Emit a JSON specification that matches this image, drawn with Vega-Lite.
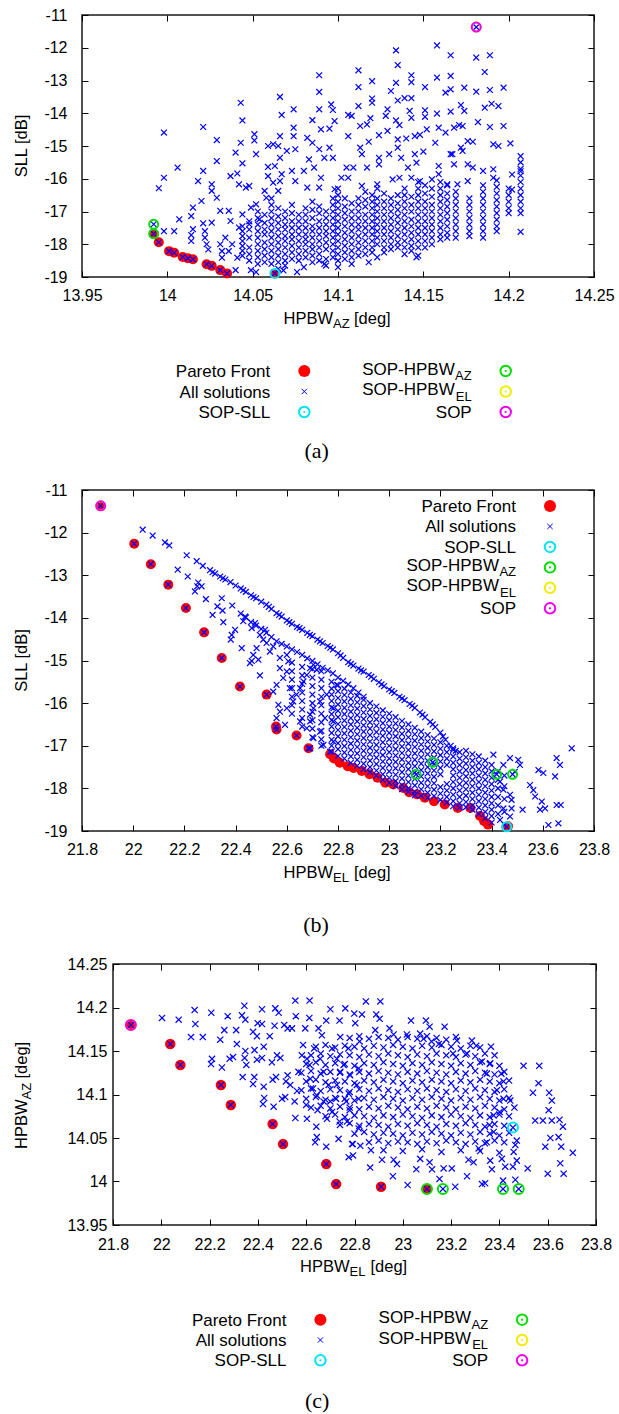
{
"$schema": "https://vega.github.io/schema/vega-lite/v6.json",
"padding": {"left": 12, "top": 6, "right": 0, "bottom": 0},
"spacing": 18,
"columns": 1,
"config": {
  "font": "Liberation Sans",
  "view": {"stroke": "#1a1a1a", "strokeWidth": 1.5},
  "axis": {"domain": false, "grid": false, "tickSize": -6, "tickColor": "#000", "tickWidth": 1, "labelFontSize": 16, "labelColor": "#000", "labelFlush": false, "labelOverlap": false}
},
"datasets": {
  "L3": [{"k":"pf","name":"Pareto Front","col":0,"row":0},{"k":"all","name":"All solutions","col":0,"row":1},{"k":"sll","name":"SOP-SLL","col":0,"row":2},{"k":"az","name":"SOP-HPBW","sub":"AZ","col":1,"row":0},{"k":"el","name":"SOP-HPBW","sub":"EL","col":1,"row":1},{"k":"sop","name":"SOP","col":1,"row":2}],
  "L6": [{"k":"pf","name":"Pareto Front","col":0,"row":0},{"k":"all","name":"All solutions","col":0,"row":1},{"k":"sll","name":"SOP-SLL","col":0,"row":2},{"k":"az","name":"SOP-HPBW","sub":"AZ","col":0,"row":3},{"k":"el","name":"SOP-HPBW","sub":"EL","col":0,"row":4},{"k":"sop","name":"SOP","col":0,"row":5}],
  "aP": [{"x":13.992,"y":-17.68},{"x":13.995,"y":-17.94},{"x":14.001,"y":-18.21},{"x":14.004,"y":-18.26},{"x":14.009,"y":-18.39},{"x":14.012,"y":-18.43},{"x":14.015,"y":-18.46},{"x":14.023,"y":-18.61},{"x":14.026,"y":-18.66},{"x":14.031,"y":-18.79},{"x":14.035,"y":-18.89},{"x":14.063,"y":-18.89}],
  "aS": [{"x":14.063,"y":-18.89,"k":"sll"},{"x":13.992,"y":-17.39,"k":"az"},{"x":13.992,"y":-17.68,"k":"az"},{"x":14.181,"y":-11.37,"k":"el"},{"x":14.181,"y":-11.37,"k":"sop"}],
  "aA": [
{"x":14.181,"y":-11.37},{"x":14.158,"y":-11.93},{"x":14.134,"y":-12.08},{"x":14.166,"y":-12.23},{"x":14.181,"y":-12.30},{"x":14.189,"y":-12.23},{"x":14.135,"y":-12.53},{"x":14.186,"y":-12.74},{"x":14.112,"y":-12.69},{"x":14.089,"y":-12.84},{"x":14.120,"y":-13.02},{"x":14.143,"y":-12.84},{"x":14.143,"y":-13.05},{"x":14.134,"y":-13.07},{"x":14.158,"y":-12.91},{"x":14.166,"y":-12.86},{"x":14.112,"y":-13.20},{"x":14.151,"y":-13.20},{"x":14.163,"y":-13.37},{"x":14.166,"y":-13.27},{"x":14.174,"y":-13.22},{"x":14.181,"y":-13.34},{"x":14.189,"y":-13.29},{"x":14.197,"y":-13.22},{"x":14.089,"y":-13.35},{"x":14.131,"y":-13.32},{"x":14.135,"y":-13.61},{"x":14.139,"y":-13.54},{"x":14.143,"y":-13.54},{"x":14.120,"y":-13.55},{"x":14.120,"y":-13.68},{"x":14.074,"y":-13.88},{"x":14.089,"y":-13.88},{"x":14.096,"y":-13.73},{"x":14.097,"y":-13.90},{"x":14.112,"y":-13.78},{"x":14.106,"y":-14.05},{"x":14.108,"y":-14.08},{"x":14.117,"y":-14.34},{"x":14.119,"y":-14.15},{"x":14.129,"y":-13.88},{"x":14.128,"y":-14.08},{"x":14.134,"y":-14.22},{"x":14.136,"y":-14.36},{"x":14.142,"y":-13.93},{"x":14.143,"y":-14.14},{"x":14.151,"y":-13.91},{"x":14.151,"y":-14.11},{"x":14.158,"y":-14.01},{"x":14.166,"y":-13.95},{"x":14.172,"y":-13.75},{"x":14.174,"y":-13.93},{"x":14.182,"y":-14.27},{"x":14.186,"y":-13.83},{"x":14.190,"y":-13.71},{"x":14.194,"y":-13.78},{"x":14.197,"y":-14.39},{"x":14.189,"y":-14.42},{"x":14.085,"y":-14.21},{"x":14.074,"y":-14.44},{"x":14.074,"y":-14.70},{"x":14.066,"y":-14.70},{"x":14.090,"y":-14.49},{"x":14.095,"y":-14.47},{"x":14.098,"y":-14.24},{"x":14.082,"y":-14.75},{"x":14.085,"y":-14.90},{"x":14.106,"y":-14.70},{"x":14.113,"y":-14.39},{"x":14.118,"y":-14.87},{"x":14.124,"y":-14.67},{"x":14.129,"y":-14.54},{"x":14.135,"y":-14.80},{"x":14.140,"y":-14.77},{"x":14.145,"y":-14.70},{"x":14.148,"y":-14.66},{"x":14.152,"y":-14.49},{"x":14.159,"y":-14.44},{"x":14.163,"y":-14.59},{"x":14.168,"y":-14.44},{"x":14.171,"y":-14.36},{"x":14.173,"y":-14.39},{"x":14.176,"y":-14.85},{"x":14.179,"y":-14.87},{"x":14.157,"y":-14.90},{"x":14.167,"y":-15.25},{"x":14.173,"y":-15.15},{"x":14.191,"y":-14.95},{"x":14.194,"y":-15.00},{"x":14.089,"y":-15.10},{"x":14.095,"y":-15.05},{"x":14.092,"y":-15.36},{"x":14.097,"y":-15.36},{"x":14.083,"y":-15.41},{"x":14.066,"y":-15.36},{"x":14.070,"y":-15.15},{"x":14.075,"y":-15.10},{"x":14.080,"y":-15.76},{"x":14.073,"y":-15.76},{"x":14.113,"y":-15.05},{"x":14.114,"y":-15.25},{"x":14.124,"y":-15.36},{"x":14.124,"y":-15.56},{"x":14.130,"y":-15.25},{"x":14.135,"y":-15.05},{"x":14.137,"y":-15.36},{"x":14.141,"y":-15.66},{"x":14.145,"y":-15.25},{"x":14.146,"y":-15.51},{"x":14.150,"y":-15.17},{"x":14.159,"y":-15.61},{"x":14.159,"y":-15.86},{"x":14.166,"y":-15.25},{"x":14.168,"y":-15.56},{"x":14.172,"y":-15.05},{"x":14.176,"y":-15.56},{"x":14.179,"y":-15.66},{"x":14.185,"y":-15.76},{"x":14.191,"y":-15.71},{"x":14.191,"y":-15.97},{"x":14.105,"y":-15.66},{"x":14.109,"y":-15.66},{"x":14.117,"y":-15.66},{"x":14.102,"y":-15.97},{"x":14.090,"y":-15.97},{"x":14.086,"y":-15.66},{"x":14.066,"y":-16.07},{"x":14.075,"y":-16.07},{"x":14.082,"y":-16.27},{"x":14.089,"y":-16.27},{"x":14.098,"y":-16.32},{"x":14.106,"y":-15.97},{"x":14.114,"y":-16.22},{"x":14.123,"y":-16.17},{"x":14.132,"y":-16.02},{"x":14.136,"y":-15.97},{"x":14.143,"y":-15.97},{"x":14.148,"y":-16.07},{"x":14.155,"y":-16.02},{"x":14.164,"y":-16.17},{"x":14.170,"y":-16.17},{"x":14.176,"y":-16.07},
{"x":14.201,"y":-14.92},{"x":14.207,"y":-15.31},{"x":14.202,"y":-15.87},{"x":14.207,"y":-15.77},{"x":14.202,"y":-16.33},{"x":14.207,"y":-17.62},
{"x":13.998,"y":-14.59},{"x":13.995,"y":-16.29},{"x":13.998,"y":-15.97},{"x":14.006,"y":-15.66},{"x":14.021,"y":-14.42},{"x":14.029,"y":-14.82},{"x":14.029,"y":-15.46},{"x":14.021,"y":-15.76},{"x":14.018,"y":-16.07},{"x":14.043,"y":-13.68},{"x":14.044,"y":-14.22},{"x":14.043,"y":-14.90},{"x":14.040,"y":-15.20},{"x":14.044,"y":-15.53},{"x":14.037,"y":-15.92},{"x":14.041,"y":-15.84},{"x":14.042,"y":-16.17},{"x":14.046,"y":-16.27},{"x":14.051,"y":-14.64},{"x":14.051,"y":-14.83},{"x":14.052,"y":-15.25},{"x":14.048,"y":-16.22},{"x":14.026,"y":-16.17},{"x":14.026,"y":-16.37},{"x":14.020,"y":-16.68},{"x":14.029,"y":-16.58},{"x":14.031,"y":-16.98},{"x":14.036,"y":-16.98},{"x":14.037,"y":-17.29},{"x":14.015,"y":-16.88},{"x":14.014,"y":-17.14},{"x":14.007,"y":-17.24},{"x":14.015,"y":-17.54},{"x":14.014,"y":-17.72},{"x":14.014,"y":-17.90},{"x":14.021,"y":-17.36},{"x":14.026,"y":-17.34},{"x":14.022,"y":-17.60},{"x":14.022,"y":-17.80},{"x":14.023,"y":-18.00},{"x":14.024,"y":-18.16},{"x":13.998,"y":-17.60},{"x":14.004,"y":-17.60},{"x":14.031,"y":-18.00},{"x":14.032,"y":-18.21},{"x":14.034,"y":-17.80},{"x":14.036,"y":-18.21},{"x":14.038,"y":-18.00},{"x":14.041,"y":-18.41},{"x":14.032,"y":-18.41},{"x":14.040,"y":-18.79},{"x":14.049,"y":-18.79},{"x":14.042,"y":-17.49},{"x":14.044,"y":-17.09},{"x":14.048,"y":-17.39},{"x":14.049,"y":-16.88},{"x":14.052,"y":-16.78},{"x":14.054,"y":-17.24},{"x":14.066,"y":-13.50},{"x":14.067,"y":-14.05},{"x":14.059,"y":-15.00},{"x":14.062,"y":-14.95},{"x":14.065,"y":-15.00},{"x":14.059,"y":-15.64},{"x":14.063,"y":-15.61},{"x":14.059,"y":-15.92},{"x":14.062,"y":-16.12},{"x":14.065,"y":-16.37},{"x":14.067,"y":-15.86},{"x":14.057,"y":-16.37},{"x":14.058,"y":-16.58},
{"x":13.992,"y":-17.68},{"x":13.995,"y":-17.94},{"x":14.001,"y":-18.21},{"x":14.004,"y":-18.26},{"x":14.009,"y":-18.39},{"x":14.012,"y":-18.43},{"x":14.015,"y":-18.46},{"x":14.023,"y":-18.61},{"x":14.026,"y":-18.66},{"x":14.031,"y":-18.79},{"x":14.035,"y":-18.89},{"x":14.063,"y":-18.89},{"x":13.992,"y":-17.39},
{"x":14.052,"y":-18.85},{"x":14.068,"y":-18.80},{"x":14.076,"y":-18.85},{"x":14.080,"y":-18.70},{"x":14.092,"y":-18.60},{"x":14.108,"y":-18.60},{"x":14.118,"y":-18.55},{"x":14.146,"y":-18.40},
{"x":14.044,"y":-17.45},{"x":14.044,"y":-17.60},{"x":14.044,"y":-17.75},{"x":14.044,"y":-17.90},{"x":14.044,"y":-18.05},{"x":14.044,"y":-18.20},{"x":14.044,"y":-18.35},
{"x":14.048,"y":-17.30},{"x":14.048,"y":-17.55},{"x":14.048,"y":-17.80},{"x":14.048,"y":-18.10},{"x":14.048,"y":-18.30},{"x":14.048,"y":-18.50},
{"x":14.053,"y":-17.00},{"x":14.053,"y":-17.20},{"x":14.053,"y":-17.40},{"x":14.053,"y":-17.60},{"x":14.053,"y":-17.80},{"x":14.053,"y":-18.00},{"x":14.053,"y":-18.20},{"x":14.053,"y":-18.40},{"x":14.053,"y":-18.60},
{"x":14.057,"y":-17.10},{"x":14.057,"y":-17.35},{"x":14.057,"y":-17.55},{"x":14.057,"y":-17.70},{"x":14.057,"y":-17.95},{"x":14.057,"y":-18.15},{"x":14.057,"y":-18.35},{"x":14.057,"y":-18.55},
{"x":14.061,"y":-16.60},{"x":14.061,"y":-16.80},{"x":14.061,"y":-17.00},{"x":14.061,"y":-17.20},{"x":14.061,"y":-17.40},{"x":14.061,"y":-17.60},{"x":14.061,"y":-17.80},{"x":14.061,"y":-18.00},{"x":14.061,"y":-18.20},{"x":14.061,"y":-18.40},{"x":14.061,"y":-18.60},
{"x":14.065,"y":-16.90},{"x":14.065,"y":-17.15},{"x":14.065,"y":-17.35},{"x":14.065,"y":-17.55},{"x":14.065,"y":-17.75},{"x":14.065,"y":-17.95},{"x":14.065,"y":-18.15},{"x":14.065,"y":-18.35},{"x":14.065,"y":-18.55},{"x":14.065,"y":-18.75},
{"x":14.069,"y":-17.00},{"x":14.069,"y":-17.20},{"x":14.069,"y":-17.40},{"x":14.069,"y":-17.55},{"x":14.069,"y":-17.75},{"x":14.069,"y":-17.90},{"x":14.069,"y":-18.10},{"x":14.069,"y":-18.30},{"x":14.069,"y":-18.50},{"x":14.069,"y":-18.65},
{"x":14.073,"y":-16.80},{"x":14.073,"y":-17.05},{"x":14.073,"y":-17.30},{"x":14.073,"y":-17.50},{"x":14.073,"y":-17.70},{"x":14.073,"y":-17.85},{"x":14.073,"y":-18.05},{"x":14.073,"y":-18.25},{"x":14.073,"y":-18.45},
{"x":14.077,"y":-17.10},{"x":14.077,"y":-17.30},{"x":14.077,"y":-17.50},{"x":14.077,"y":-17.70},{"x":14.077,"y":-17.90},{"x":14.077,"y":-18.10},{"x":14.077,"y":-18.30},{"x":14.077,"y":-18.50},
{"x":14.081,"y":-16.90},{"x":14.081,"y":-17.10},{"x":14.081,"y":-17.30},{"x":14.081,"y":-17.50},{"x":14.081,"y":-17.70},{"x":14.081,"y":-17.85},{"x":14.081,"y":-18.00},{"x":14.081,"y":-18.20},{"x":14.081,"y":-18.40},
{"x":14.085,"y":-16.70},{"x":14.085,"y":-16.95},{"x":14.085,"y":-17.20},{"x":14.085,"y":-17.45},{"x":14.085,"y":-17.60},{"x":14.085,"y":-17.80},{"x":14.085,"y":-18.00},{"x":14.085,"y":-18.15},{"x":14.085,"y":-18.35},{"x":14.085,"y":-18.55},
{"x":14.089,"y":-16.85},{"x":14.089,"y":-17.05},{"x":14.089,"y":-17.30},{"x":14.089,"y":-17.50},{"x":14.089,"y":-17.70},{"x":14.089,"y":-17.90},{"x":14.089,"y":-18.10},{"x":14.089,"y":-18.30},{"x":14.089,"y":-18.50},
{"x":14.093,"y":-17.00},{"x":14.093,"y":-17.20},{"x":14.093,"y":-17.40},{"x":14.093,"y":-17.60},{"x":14.093,"y":-17.75},{"x":14.093,"y":-17.95},{"x":14.093,"y":-18.15},{"x":14.093,"y":-18.45},{"x":14.093,"y":-18.65},
{"x":14.097,"y":-16.60},{"x":14.097,"y":-16.80},{"x":14.097,"y":-17.00},{"x":14.097,"y":-17.20},{"x":14.097,"y":-17.40},{"x":14.097,"y":-17.60},{"x":14.097,"y":-17.80},{"x":14.097,"y":-18.00},{"x":14.097,"y":-18.20},{"x":14.097,"y":-18.40},
{"x":14.100,"y":-16.30},{"x":14.100,"y":-16.50},{"x":14.100,"y":-16.70},{"x":14.100,"y":-16.90},{"x":14.100,"y":-17.10},{"x":14.100,"y":-17.30},{"x":14.100,"y":-17.50},{"x":14.100,"y":-17.70},{"x":14.100,"y":-17.90},{"x":14.100,"y":-18.10},{"x":14.100,"y":-18.30},{"x":14.100,"y":-18.50},{"x":14.100,"y":-18.70},
{"x":14.104,"y":-16.60},{"x":14.104,"y":-16.85},{"x":14.104,"y":-17.05},{"x":14.104,"y":-17.25},{"x":14.104,"y":-17.45},{"x":14.104,"y":-17.65},{"x":14.104,"y":-17.85},{"x":14.104,"y":-18.05},{"x":14.104,"y":-18.25},{"x":14.104,"y":-18.45},
{"x":14.108,"y":-16.75},{"x":14.108,"y":-17.00},{"x":14.108,"y":-17.20},{"x":14.108,"y":-17.40},{"x":14.108,"y":-17.60},{"x":14.108,"y":-17.80},{"x":14.108,"y":-18.00},{"x":14.108,"y":-18.20},{"x":14.108,"y":-18.40},
{"x":14.112,"y":-16.60},{"x":14.112,"y":-16.80},{"x":14.112,"y":-17.00},{"x":14.112,"y":-17.20},{"x":14.112,"y":-17.40},{"x":14.112,"y":-17.55},{"x":14.112,"y":-17.75},{"x":14.112,"y":-17.95},{"x":14.112,"y":-18.15},{"x":14.112,"y":-18.35},
{"x":14.116,"y":-16.40},{"x":14.116,"y":-16.65},{"x":14.116,"y":-16.85},{"x":14.116,"y":-17.10},{"x":14.116,"y":-17.30},{"x":14.116,"y":-17.50},{"x":14.116,"y":-17.70},{"x":14.116,"y":-17.90},{"x":14.116,"y":-18.10},{"x":14.116,"y":-18.30},
{"x":14.120,"y":-16.50},{"x":14.120,"y":-16.70},{"x":14.120,"y":-16.90},{"x":14.120,"y":-17.10},{"x":14.120,"y":-17.30},{"x":14.120,"y":-17.50},{"x":14.120,"y":-17.70},{"x":14.120,"y":-17.90},{"x":14.120,"y":-18.10},{"x":14.120,"y":-18.25},
{"x":14.123,"y":-16.30},{"x":14.123,"y":-16.60},{"x":14.123,"y":-16.80},{"x":14.123,"y":-17.00},{"x":14.123,"y":-17.20},{"x":14.123,"y":-17.40},{"x":14.123,"y":-17.60},{"x":14.123,"y":-17.80},{"x":14.123,"y":-18.00},{"x":14.123,"y":-18.40},
{"x":14.127,"y":-16.45},{"x":14.127,"y":-16.70},{"x":14.127,"y":-16.90},{"x":14.127,"y":-17.10},{"x":14.127,"y":-17.30},{"x":14.127,"y":-17.50},{"x":14.127,"y":-17.70},{"x":14.127,"y":-17.90},{"x":14.127,"y":-18.10},{"x":14.127,"y":-18.25},
{"x":14.131,"y":-16.60},{"x":14.131,"y":-16.80},{"x":14.131,"y":-17.00},{"x":14.131,"y":-17.20},{"x":14.131,"y":-17.40},{"x":14.131,"y":-17.60},{"x":14.131,"y":-17.80},{"x":14.131,"y":-18.00},{"x":14.131,"y":-18.15},
{"x":14.135,"y":-16.50},{"x":14.135,"y":-16.75},{"x":14.135,"y":-16.95},{"x":14.135,"y":-17.15},{"x":14.135,"y":-17.35},{"x":14.135,"y":-17.55},{"x":14.135,"y":-17.75},{"x":14.135,"y":-17.95},{"x":14.135,"y":-18.10},
{"x":14.139,"y":-16.30},{"x":14.139,"y":-16.50},{"x":14.139,"y":-16.70},{"x":14.139,"y":-16.90},{"x":14.139,"y":-17.10},{"x":14.139,"y":-17.30},{"x":14.139,"y":-17.50},{"x":14.139,"y":-17.70},{"x":14.139,"y":-17.90},{"x":14.139,"y":-18.10},{"x":14.139,"y":-18.30},
{"x":14.143,"y":-16.55},{"x":14.143,"y":-16.80},{"x":14.143,"y":-17.00},{"x":14.143,"y":-17.25},{"x":14.143,"y":-17.45},{"x":14.143,"y":-17.65},{"x":14.143,"y":-17.85},{"x":14.143,"y":-18.05},{"x":14.143,"y":-18.20},
{"x":14.147,"y":-16.10},{"x":14.147,"y":-16.30},{"x":14.147,"y":-16.50},{"x":14.147,"y":-16.70},{"x":14.147,"y":-16.90},{"x":14.147,"y":-17.10},{"x":14.147,"y":-17.30},{"x":14.147,"y":-17.50},{"x":14.147,"y":-17.70},{"x":14.147,"y":-17.90},{"x":14.147,"y":-18.10},{"x":14.147,"y":-18.35},
{"x":14.151,"y":-16.20},{"x":14.151,"y":-16.45},{"x":14.151,"y":-16.70},{"x":14.151,"y":-16.90},{"x":14.151,"y":-17.10},{"x":14.151,"y":-17.30},{"x":14.151,"y":-17.50},{"x":14.151,"y":-17.70},{"x":14.151,"y":-17.90},{"x":14.151,"y":-18.10},
{"x":14.155,"y":-16.30},{"x":14.155,"y":-16.55},{"x":14.155,"y":-16.80},{"x":14.155,"y":-17.00},{"x":14.155,"y":-17.20},{"x":14.155,"y":-17.40},{"x":14.155,"y":-17.60},{"x":14.155,"y":-17.80},{"x":14.155,"y":-18.00},
{"x":14.160,"y":-16.10},{"x":14.160,"y":-16.30},{"x":14.160,"y":-16.50},{"x":14.160,"y":-16.70},{"x":14.160,"y":-16.90},{"x":14.160,"y":-17.10},{"x":14.160,"y":-17.30},{"x":14.160,"y":-17.50},{"x":14.160,"y":-17.70},{"x":14.160,"y":-17.85},
{"x":14.164,"y":-16.20},{"x":14.164,"y":-16.45},{"x":14.164,"y":-16.65},{"x":14.164,"y":-16.85},{"x":14.164,"y":-17.05},{"x":14.164,"y":-17.25},{"x":14.164,"y":-17.45},{"x":14.164,"y":-17.65},{"x":14.164,"y":-17.80},
{"x":14.169,"y":-16.40},{"x":14.169,"y":-16.60},{"x":14.169,"y":-16.80},{"x":14.169,"y":-17.00},{"x":14.169,"y":-17.20},{"x":14.169,"y":-17.40},{"x":14.169,"y":-17.60},{"x":14.169,"y":-17.80},
{"x":14.177,"y":-16.60},{"x":14.177,"y":-16.80},{"x":14.177,"y":-17.00},{"x":14.177,"y":-17.20},{"x":14.177,"y":-17.40},{"x":14.177,"y":-17.60},{"x":14.177,"y":-17.75},
{"x":14.185,"y":-16.20},{"x":14.185,"y":-16.40},{"x":14.185,"y":-16.60},{"x":14.185,"y":-16.80},{"x":14.185,"y":-17.00},{"x":14.185,"y":-17.20},{"x":14.185,"y":-17.40},{"x":14.185,"y":-17.60},{"x":14.185,"y":-17.80},
{"x":14.193,"y":-16.05},{"x":14.193,"y":-16.25},{"x":14.193,"y":-16.45},{"x":14.193,"y":-16.65},{"x":14.193,"y":-16.85},{"x":14.193,"y":-17.05},{"x":14.193,"y":-17.25},{"x":14.193,"y":-17.45},{"x":14.193,"y":-17.60},
{"x":14.200,"y":-16.30},{"x":14.200,"y":-16.50},{"x":14.200,"y":-16.70},{"x":14.200,"y":-16.90},{"x":14.200,"y":-17.05},
{"x":14.207,"y":-15.50},{"x":14.207,"y":-15.70},{"x":14.207,"y":-15.90},{"x":14.207,"y":-16.10},{"x":14.207,"y":-16.30},{"x":14.207,"y":-16.50},{"x":14.207,"y":-16.70},{"x":14.207,"y":-16.90},{"x":14.207,"y":-17.05}
  ],
  "bP": [{"x":21.873,"y":-11.37},{"x":22.004,"y":-12.26},{"x":22.069,"y":-12.74},{"x":22.137,"y":-13.22},{"x":22.206,"y":-13.77},{"x":22.277,"y":-14.34},{"x":22.346,"y":-14.94},{"x":22.417,"y":-15.61},{"x":22.521,"y":-15.80},{"x":22.558,"y":-16.55},{"x":22.560,"y":-16.62},{"x":22.638,"y":-16.76},{"x":22.685,"y":-17.06},{"x":22.769,"y":-17.20},{"x":22.784,"y":-17.30},{"x":22.807,"y":-17.40},{"x":22.838,"y":-17.48},{"x":22.861,"y":-17.52},{"x":22.893,"y":-17.59},{"x":22.923,"y":-17.67},{"x":22.954,"y":-17.75},{"x":22.985,"y":-17.87},{"x":23.016,"y":-17.91},{"x":23.055,"y":-17.99},{"x":23.078,"y":-18.09},{"x":23.109,"y":-18.14},{"x":23.139,"y":-18.22},{"x":23.175,"y":-18.30},{"x":23.217,"y":-18.38},{"x":23.268,"y":-18.46},{"x":23.317,"y":-18.46},{"x":23.355,"y":-18.65},{"x":23.371,"y":-18.77},{"x":23.386,"y":-18.85},{"x":23.464,"y":-18.89}],
  "bS": [{"x":23.459,"y":-18.90,"k":"sll"},{"x":23.105,"y":-17.67,"k":"az"},{"x":23.170,"y":-17.39,"k":"az"},{"x":23.420,"y":-17.67,"k":"az"},{"x":23.482,"y":-17.67,"k":"az"},{"x":21.873,"y":-11.37,"k":"el"},{"x":21.873,"y":-11.37,"k":"sop"}],
  "bA": [
{"x":22.037,"y":-11.93},{"x":22.076,"y":-12.07},{"x":22.124,"y":-12.23},{"x":22.141,"y":-12.30},{"x":22.209,"y":-12.53},{"x":22.248,"y":-12.67},{"x":22.272,"y":-12.78},
{"x":22.30,"y":-12.88},{"x":22.31,"y":-12.93},{"x":22.32,"y":-12.96},{"x":22.34,"y":-13.03},{"x":22.35,"y":-13.07},{"x":22.36,"y":-13.10},{"x":22.38,"y":-13.16},{"x":22.40,"y":-13.24},{"x":22.42,"y":-13.31},{"x":22.43,"y":-13.35},{"x":22.44,"y":-13.39},{"x":22.46,"y":-13.47},{"x":22.47,"y":-13.51},{"x":22.48,"y":-13.54},{"x":22.50,"y":-13.62},{"x":22.52,"y":-13.69},{"x":22.53,"y":-13.74},{"x":22.54,"y":-13.79},{"x":22.56,"y":-13.89},{"x":22.57,"y":-13.93},{"x":22.58,"y":-13.97},{"x":22.60,"y":-14.06},{"x":22.61,"y":-14.10},{"x":22.62,"y":-14.14},{"x":22.64,"y":-14.21},{"x":22.65,"y":-14.24},{"x":22.66,"y":-14.28},{"x":22.68,"y":-14.35},{"x":22.69,"y":-14.40},{"x":22.70,"y":-14.43},{"x":22.72,"y":-14.51},{"x":22.73,"y":-14.55},{"x":22.74,"y":-14.59},{"x":22.76,"y":-14.66},{"x":22.77,"y":-14.70},{"x":22.78,"y":-14.74},{"x":22.80,"y":-14.83},{"x":22.81,"y":-14.88},{"x":22.82,"y":-14.94},{"x":22.84,"y":-15.04},{"x":22.85,"y":-15.08},{"x":22.86,"y":-15.12},{"x":22.88,"y":-15.19},{"x":22.89,"y":-15.23},{"x":22.90,"y":-15.26},{"x":22.92,"y":-15.34},{"x":22.93,"y":-15.38},{"x":22.94,"y":-15.43},{"x":22.96,"y":-15.51},{"x":22.97,"y":-15.56},{"x":22.98,"y":-15.60},{"x":23.00,"y":-15.68},{"x":23.01,"y":-15.72},{"x":23.02,"y":-15.76},{"x":23.04,"y":-15.85},{"x":23.05,"y":-15.89},{"x":23.06,"y":-15.93},{"x":23.08,"y":-16.02},{"x":23.09,"y":-16.06},{"x":23.10,"y":-16.11},{"x":23.12,"y":-16.22},{"x":23.13,"y":-16.27},{"x":23.14,"y":-16.33},{"x":23.16,"y":-16.44},{"x":23.17,"y":-16.50},{"x":23.18,"y":-16.56},{"x":23.20,"y":-16.69},{"x":23.21,"y":-16.78},{"x":23.22,"y":-16.86},{"x":23.24,"y":-17.00},{"x":23.25,"y":-17.06},{"x":23.26,"y":-17.12},
{"x":22.42,"y":-13.90},{"x":22.44,"y":-13.99},{"x":22.46,"y":-14.10},{"x":22.48,"y":-14.18},{"x":22.50,"y":-14.26},{"x":22.52,"y":-14.35},{"x":22.54,"y":-14.45},{"x":22.56,"y":-14.55},{"x":22.58,"y":-14.61},{"x":22.60,"y":-14.67},{"x":22.62,"y":-14.74},{"x":22.64,"y":-14.80},{"x":22.66,"y":-14.87},{"x":22.68,"y":-14.95},{"x":22.70,"y":-15.01},{"x":22.72,"y":-15.09},{"x":22.74,"y":-15.17},{"x":22.76,"y":-15.23},{"x":22.78,"y":-15.30},{"x":22.80,"y":-15.40},{"x":22.82,"y":-15.48},{"x":22.84,"y":-15.56},{"x":22.86,"y":-15.65},{"x":22.88,"y":-15.75},{"x":22.90,"y":-15.85},
{"x":22.174,"y":-12.87},{"x":22.213,"y":-13.03},{"x":22.254,"y":-13.17},{"x":22.267,"y":-13.26},{"x":22.241,"y":-13.38},{"x":22.250,"y":-13.26},{"x":22.284,"y":-13.56},{"x":22.329,"y":-13.73},{"x":22.346,"y":-13.54},{"x":22.349,"y":-13.83},{"x":22.310,"y":-13.93},{"x":22.352,"y":-14.10},{"x":22.387,"y":-13.71},{"x":22.398,"y":-14.28},{"x":22.385,"y":-14.40},{"x":22.381,"y":-14.51},{"x":22.424,"y":-14.71},{"x":22.430,"y":-14.08},{"x":22.437,"y":-13.97},{"x":22.463,"y":-14.24},{"x":22.476,"y":-14.12},{"x":22.495,"y":-14.40},{"x":22.515,"y":-14.28},{"x":22.482,"y":-14.71},{"x":22.469,"y":-14.87},{"x":22.456,"y":-15.06},{"x":22.463,"y":-15.01},{"x":22.489,"y":-14.98},{"x":22.495,"y":-15.35},{"x":22.508,"y":-14.51},{"x":22.521,"y":-14.59},{"x":22.547,"y":-14.67},{"x":22.534,"y":-14.79},{"x":22.573,"y":-14.94},{"x":22.600,"y":-14.87},{"x":22.606,"y":-15.02},{"x":22.573,"y":-15.18},{"x":22.600,"y":-15.26},{"x":22.586,"y":-15.41},{"x":22.560,"y":-15.57},{"x":22.547,"y":-15.73},{"x":22.567,"y":-16.04},{"x":22.573,"y":-16.20},{"x":22.560,"y":-16.35},{"x":22.593,"y":-16.51},{"x":22.600,"y":-16.12},{"x":22.625,"y":-15.96},{"x":22.638,"y":-15.80},{"x":22.612,"y":-15.65},{"x":22.652,"y":-15.65},{"x":22.665,"y":-15.49},{"x":22.678,"y":-15.34},{"x":22.691,"y":-15.18},{"x":22.704,"y":-15.10},{"x":22.717,"y":-15.22},{"x":22.652,"y":-16.43},{"x":22.678,"y":-16.59},{"x":22.691,"y":-16.43},{"x":22.691,"y":-16.27},{"x":22.704,"y":-16.12},{"x":22.730,"y":-15.96},{"x":22.756,"y":-15.80},{"x":22.749,"y":-16.35},{"x":22.743,"y":-16.98},{"x":22.704,"y":-16.82},{"x":22.691,"y":-17.06},{"x":22.730,"y":-16.67},{"x":22.782,"y":-16.43},{"x":22.782,"y":-16.12},{"x":22.795,"y":-15.57},{"x":22.782,"y":-16.90},{"x":22.769,"y":-17.14},
{"x":22.62,"y":-15.05},{"x":22.62,"y":-15.25},{"x":22.62,"y":-15.45},{"x":22.62,"y":-15.65},{"x":22.62,"y":-15.85},{"x":22.62,"y":-16.05},{"x":22.62,"y":-16.25},
{"x":22.66,"y":-15.15},{"x":22.66,"y":-15.35},{"x":22.66,"y":-15.55},{"x":22.66,"y":-15.75},{"x":22.66,"y":-15.95},{"x":22.66,"y":-16.15},{"x":22.66,"y":-16.35},{"x":22.66,"y":-16.55},
{"x":22.70,"y":-15.20},{"x":22.70,"y":-15.40},{"x":22.70,"y":-15.60},{"x":22.70,"y":-15.80},{"x":22.70,"y":-16.00},{"x":22.70,"y":-16.20},{"x":22.70,"y":-16.40},{"x":22.70,"y":-16.60},{"x":22.70,"y":-16.80},
{"x":22.735,"y":-15.25},{"x":22.735,"y":-15.45},{"x":22.735,"y":-15.65},{"x":22.735,"y":-15.85},{"x":22.735,"y":-16.05},{"x":22.735,"y":-16.25},{"x":22.735,"y":-16.45},{"x":22.735,"y":-16.65},{"x":22.735,"y":-16.85},{"x":22.735,"y":-17.00},
{"x":22.775,"y":-15.50},{"x":22.775,"y":-15.66},{"x":22.775,"y":-15.80},{"x":22.775,"y":-15.95},{"x":22.775,"y":-16.10},{"x":22.775,"y":-16.26},{"x":22.775,"y":-16.40},{"x":22.775,"y":-16.55},{"x":22.775,"y":-16.70},{"x":22.775,"y":-16.86},{"x":22.775,"y":-17.00},{"x":22.775,"y":-17.14},
{"x":22.80,"y":-15.58},{"x":22.80,"y":-15.72},{"x":22.80,"y":-15.88},{"x":22.80,"y":-16.03},{"x":22.80,"y":-16.18},{"x":22.80,"y":-16.33},{"x":22.80,"y":-16.49},{"x":22.80,"y":-16.63},{"x":22.80,"y":-16.78},{"x":22.80,"y":-16.94},{"x":22.80,"y":-17.08},{"x":22.80,"y":-17.24},
{"x":22.825,"y":-15.66},{"x":22.825,"y":-15.81},{"x":22.825,"y":-15.96},{"x":22.825,"y":-16.11},{"x":22.825,"y":-16.26},{"x":22.825,"y":-16.41},{"x":22.825,"y":-16.56},{"x":22.825,"y":-16.71},{"x":22.825,"y":-16.86},{"x":22.825,"y":-17.01},{"x":22.825,"y":-17.16},{"x":22.825,"y":-17.30},
{"x":22.85,"y":-15.75},{"x":22.85,"y":-15.90},{"x":22.85,"y":-16.05},{"x":22.85,"y":-16.20},{"x":22.85,"y":-16.35},{"x":22.85,"y":-16.50},{"x":22.85,"y":-16.65},{"x":22.85,"y":-16.80},{"x":22.85,"y":-16.95},{"x":22.85,"y":-17.10},{"x":22.85,"y":-17.25},{"x":22.85,"y":-17.40},
{"x":22.875,"y":-15.83},{"x":22.875,"y":-15.98},{"x":22.875,"y":-16.13},{"x":22.875,"y":-16.28},{"x":22.875,"y":-16.43},{"x":22.875,"y":-16.58},{"x":22.875,"y":-16.73},{"x":22.875,"y":-16.88},{"x":22.875,"y":-17.03},{"x":22.875,"y":-17.18},{"x":22.875,"y":-17.33},{"x":22.875,"y":-17.47},
{"x":22.90,"y":-15.92},{"x":22.90,"y":-16.07},{"x":22.90,"y":-16.22},{"x":22.90,"y":-16.37},{"x":22.90,"y":-16.52},{"x":22.90,"y":-16.67},{"x":22.90,"y":-16.82},{"x":22.90,"y":-16.97},{"x":22.90,"y":-17.12},{"x":22.90,"y":-17.27},{"x":22.90,"y":-17.42},{"x":22.90,"y":-17.55},
{"x":22.925,"y":-16.00},{"x":22.925,"y":-16.15},{"x":22.925,"y":-16.30},{"x":22.925,"y":-16.45},{"x":22.925,"y":-16.60},{"x":22.925,"y":-16.75},{"x":22.925,"y":-16.90},{"x":22.925,"y":-17.05},{"x":22.925,"y":-17.20},{"x":22.925,"y":-17.35},{"x":22.925,"y":-17.50},{"x":22.925,"y":-17.62},
{"x":22.95,"y":-16.08},{"x":22.95,"y":-16.23},{"x":22.95,"y":-16.38},{"x":22.95,"y":-16.53},{"x":22.95,"y":-16.68},{"x":22.95,"y":-16.83},{"x":22.95,"y":-16.98},{"x":22.95,"y":-17.13},{"x":22.95,"y":-17.28},{"x":22.95,"y":-17.43},{"x":22.95,"y":-17.58},{"x":22.95,"y":-17.70},
{"x":22.975,"y":-16.17},{"x":22.975,"y":-16.32},{"x":22.975,"y":-16.47},{"x":22.975,"y":-16.62},{"x":22.975,"y":-16.77},{"x":22.975,"y":-16.92},{"x":22.975,"y":-17.07},{"x":22.975,"y":-17.22},{"x":22.975,"y":-17.37},{"x":22.975,"y":-17.52},{"x":22.975,"y":-17.67},{"x":22.975,"y":-17.80},
{"x":23.00,"y":-16.25},{"x":23.00,"y":-16.40},{"x":23.00,"y":-16.55},{"x":23.00,"y":-16.70},{"x":23.00,"y":-16.85},{"x":23.00,"y":-17.00},{"x":23.00,"y":-17.15},{"x":23.00,"y":-17.30},{"x":23.00,"y":-17.45},{"x":23.00,"y":-17.60},{"x":23.00,"y":-17.75},{"x":23.00,"y":-17.87},
{"x":23.025,"y":-16.33},{"x":23.025,"y":-16.48},{"x":23.025,"y":-16.63},{"x":23.025,"y":-16.78},{"x":23.025,"y":-16.93},{"x":23.025,"y":-17.08},{"x":23.025,"y":-17.23},{"x":23.025,"y":-17.38},{"x":23.025,"y":-17.53},{"x":23.025,"y":-17.68},{"x":23.025,"y":-17.83},{"x":23.025,"y":-17.94},
{"x":23.05,"y":-16.42},{"x":23.05,"y":-16.57},{"x":23.05,"y":-16.72},{"x":23.05,"y":-16.87},{"x":23.05,"y":-17.02},{"x":23.05,"y":-17.17},{"x":23.05,"y":-17.32},{"x":23.05,"y":-17.47},{"x":23.05,"y":-17.62},{"x":23.05,"y":-17.77},{"x":23.05,"y":-17.92},{"x":23.05,"y":-18.02},
{"x":23.075,"y":-16.50},{"x":23.075,"y":-16.65},{"x":23.075,"y":-16.80},{"x":23.075,"y":-16.95},{"x":23.075,"y":-17.10},{"x":23.075,"y":-17.25},{"x":23.075,"y":-17.40},{"x":23.075,"y":-17.55},{"x":23.075,"y":-17.70},{"x":23.075,"y":-17.85},{"x":23.075,"y":-18.00},{"x":23.075,"y":-18.08},
{"x":23.10,"y":-16.58},{"x":23.10,"y":-16.73},{"x":23.10,"y":-16.88},{"x":23.10,"y":-17.03},{"x":23.10,"y":-17.18},{"x":23.10,"y":-17.33},{"x":23.10,"y":-17.48},{"x":23.10,"y":-17.63},{"x":23.10,"y":-17.78},{"x":23.10,"y":-17.93},{"x":23.10,"y":-18.08},{"x":23.10,"y":-18.16},
{"x":23.125,"y":-16.67},{"x":23.125,"y":-16.82},{"x":23.125,"y":-16.97},{"x":23.125,"y":-17.12},{"x":23.125,"y":-17.27},{"x":23.125,"y":-17.42},{"x":23.125,"y":-17.57},{"x":23.125,"y":-17.72},{"x":23.125,"y":-17.87},{"x":23.125,"y":-18.02},{"x":23.125,"y":-18.17},
{"x":23.15,"y":-16.75},{"x":23.15,"y":-16.90},{"x":23.15,"y":-17.05},{"x":23.15,"y":-17.20},{"x":23.15,"y":-17.35},{"x":23.15,"y":-17.50},{"x":23.15,"y":-17.65},{"x":23.15,"y":-17.80},{"x":23.15,"y":-17.95},{"x":23.15,"y":-18.10},{"x":23.15,"y":-18.22},
{"x":23.175,"y":-16.83},{"x":23.175,"y":-16.98},{"x":23.175,"y":-17.13},{"x":23.175,"y":-17.28},{"x":23.175,"y":-17.43},{"x":23.175,"y":-17.58},{"x":23.175,"y":-17.73},{"x":23.175,"y":-17.88},{"x":23.175,"y":-18.03},{"x":23.175,"y":-18.18},
{"x":23.20,"y":-16.92},{"x":23.20,"y":-17.07},{"x":23.20,"y":-17.22},{"x":23.20,"y":-17.37},{"x":23.20,"y":-17.52},{"x":23.20,"y":-17.67},{"x":23.20,"y":-17.97},{"x":23.20,"y":-18.12},{"x":23.20,"y":-18.27},{"x":23.225,"y":-17.00},{"x":23.225,"y":-17.15},{"x":23.225,"y":-17.30},{"x":23.225,"y":-17.45},{"x":23.225,"y":-17.90},{"x":23.225,"y":-18.05},{"x":23.225,"y":-18.20},{"x":23.225,"y":-18.33},
{"x":23.25,"y":-17.10},{"x":23.25,"y":-17.25},{"x":23.25,"y":-17.40},{"x":23.25,"y":-17.55},{"x":23.25,"y":-17.70},{"x":23.25,"y":-17.85},{"x":23.25,"y":-18.00},{"x":23.25,"y":-18.15},{"x":23.25,"y":-18.30},{"x":23.25,"y":-18.42},
{"x":23.275,"y":-17.15},{"x":23.275,"y":-17.30},{"x":23.275,"y":-17.45},{"x":23.275,"y":-17.60},{"x":23.275,"y":-17.75},{"x":23.275,"y":-17.90},{"x":23.275,"y":-18.05},{"x":23.275,"y":-18.20},{"x":23.275,"y":-18.35},{"x":23.275,"y":-18.45},
{"x":23.30,"y":-17.12},{"x":23.30,"y":-17.27},{"x":23.30,"y":-17.42},{"x":23.30,"y":-17.57},{"x":23.30,"y":-17.72},{"x":23.30,"y":-17.87},{"x":23.30,"y":-18.02},{"x":23.30,"y":-18.17},{"x":23.30,"y":-18.32},{"x":23.30,"y":-18.44},
{"x":23.325,"y":-17.20},{"x":23.325,"y":-17.35},{"x":23.325,"y":-17.50},{"x":23.325,"y":-17.65},{"x":23.325,"y":-17.80},{"x":23.325,"y":-17.95},{"x":23.325,"y":-18.10},{"x":23.325,"y":-18.25},{"x":23.325,"y":-18.40},{"x":23.325,"y":-18.50},
{"x":23.35,"y":-17.25},{"x":23.35,"y":-17.40},{"x":23.35,"y":-17.55},{"x":23.35,"y":-17.70},{"x":23.35,"y":-17.85},{"x":23.35,"y":-18.00},{"x":23.35,"y":-18.15},{"x":23.35,"y":-18.30},{"x":23.35,"y":-18.45},{"x":23.35,"y":-18.60},
{"x":23.375,"y":-17.35},{"x":23.375,"y":-17.50},{"x":23.375,"y":-17.65},{"x":23.375,"y":-17.80},{"x":23.375,"y":-17.95},{"x":23.375,"y":-18.10},{"x":23.375,"y":-18.25},{"x":23.375,"y":-18.40},{"x":23.375,"y":-18.55},{"x":23.375,"y":-18.70},
{"x":23.40,"y":-17.45},{"x":23.40,"y":-17.60},{"x":23.40,"y":-17.75},{"x":23.40,"y":-17.90},{"x":23.40,"y":-18.05},{"x":23.40,"y":-18.20},{"x":23.40,"y":-18.35},{"x":23.40,"y":-18.50},{"x":23.40,"y":-18.65},{"x":23.40,"y":-18.80},
{"x":23.425,"y":-17.60},{"x":23.425,"y":-17.80},{"x":23.425,"y":-18.00},{"x":23.425,"y":-18.20},{"x":23.425,"y":-18.40},{"x":23.425,"y":-18.60},
{"x":23.45,"y":-17.70},{"x":23.45,"y":-17.95},{"x":23.45,"y":-18.25},{"x":23.45,"y":-18.55},{"x":23.45,"y":-18.85},
{"x":23.407,"y":-17.21},{"x":23.472,"y":-17.29},{"x":23.504,"y":-17.33},{"x":23.511,"y":-17.45},{"x":23.491,"y":-17.61},{"x":23.446,"y":-17.45},{"x":23.433,"y":-17.84},{"x":23.446,"y":-18.03},{"x":23.478,"y":-18.27},{"x":23.472,"y":-18.15},{"x":23.478,"y":-18.47},{"x":23.446,"y":-18.47},{"x":23.521,"y":-18.50},{"x":23.550,"y":-17.92},{"x":23.563,"y":-18.04},{"x":23.570,"y":-18.19},{"x":23.583,"y":-17.57},{"x":23.602,"y":-17.64},{"x":23.596,"y":-18.31},{"x":23.589,"y":-18.50},{"x":23.609,"y":-18.47},{"x":23.622,"y":-18.86},{"x":23.654,"y":-17.29},{"x":23.667,"y":-17.45},{"x":23.648,"y":-17.72},{"x":23.654,"y":-18.39},{"x":23.670,"y":-18.39},{"x":23.661,"y":-18.82},{"x":23.713,"y":-17.06},{"x":23.433,"y":-18.74},{"x":23.472,"y":-18.66},{"x":23.420,"y":-17.67},{"x":23.482,"y":-17.67},{"x":23.459,"y":-18.90},{"x":23.105,"y":-17.67},{"x":23.170,"y":-17.39},{"x":21.873,"y":-11.37},
{"x":22.004,"y":-12.26},{"x":22.069,"y":-12.74},{"x":22.137,"y":-13.22},{"x":22.206,"y":-13.77},{"x":22.277,"y":-14.34},{"x":22.346,"y":-14.94},{"x":22.417,"y":-15.61},{"x":22.521,"y":-15.80},{"x":22.558,"y":-16.55},{"x":22.560,"y":-16.62},{"x":22.638,"y":-16.76},{"x":22.685,"y":-17.06}
  ],
  "cP": [{"x":21.874,"y":14.180},{"x":22.037,"y":14.158},{"x":22.079,"y":14.134},{"x":22.247,"y":14.111},{"x":22.288,"y":14.088},{"x":22.461,"y":14.066},{"x":22.504,"y":14.043},{"x":22.683,"y":14.020},{"x":22.724,"y":13.997},{"x":22.910,"y":13.994},{"x":23.100,"y":13.9915}],
  "cS": [{"x":23.456,"y":14.062,"k":"sll"},{"x":23.100,"y":13.9915,"k":"az"},{"x":23.166,"y":13.9915,"k":"az"},{"x":23.415,"y":13.9915,"k":"az"},{"x":23.480,"y":13.9915,"k":"az"},{"x":21.874,"y":14.180,"k":"el"},{"x":21.874,"y":14.180,"k":"sop"}],
  "cA": [
{"x":22.003,"y":14.188},{"x":22.072,"y":14.186},{"x":22.138,"y":14.197},{"x":22.141,"y":14.181},{"x":22.207,"y":14.194},{"x":22.123,"y":14.166},{"x":22.172,"y":14.166},{"x":22.275,"y":14.190},{"x":22.244,"y":14.163},{"x":22.261,"y":14.174},{"x":22.344,"y":14.202},{"x":22.334,"y":14.191},{"x":22.348,"y":14.186},{"x":22.310,"y":14.174},{"x":22.313,"y":14.158},{"x":22.417,"y":14.198},{"x":22.399,"y":14.182},{"x":22.417,"y":14.181},{"x":22.380,"y":14.172},{"x":22.396,"y":14.167},{"x":22.472,"y":14.199},{"x":22.486,"y":14.194},{"x":22.469,"y":14.179},{"x":22.449,"y":14.167},{"x":22.509,"y":14.180},{"x":22.523,"y":14.176},{"x":22.555,"y":14.208},{"x":22.557,"y":14.190},{"x":22.541,"y":14.176},{"x":22.614,"y":14.208},{"x":22.613,"y":14.188},{"x":22.596,"y":14.176},{"x":22.651,"y":14.176},{"x":22.700,"y":14.198},{"x":22.683,"y":14.185},{"x":22.762,"y":14.199},{"x":22.738,"y":14.185},{"x":22.799,"y":14.193},{"x":22.665,"y":14.168},{"x":22.741,"y":14.166},{"x":22.210,"y":14.141},{"x":22.206,"y":14.135},{"x":22.251,"y":14.131},{"x":22.283,"y":14.141},{"x":22.297,"y":14.143},{"x":22.345,"y":14.142},{"x":22.348,"y":14.150},{"x":22.352,"y":14.134},{"x":22.386,"y":14.151},{"x":22.424,"y":14.155},{"x":22.396,"y":14.140},{"x":22.417,"y":14.142},{"x":22.337,"y":14.120},{"x":22.385,"y":14.120},{"x":22.380,"y":14.112},{"x":22.424,"y":14.109},{"x":22.426,"y":14.096},{"x":22.421,"y":14.089},{"x":22.465,"y":14.086},{"x":22.458,"y":14.137},{"x":22.479,"y":14.145},{"x":22.493,"y":14.142},{"x":22.461,"y":14.117},{"x":22.475,"y":14.120},{"x":22.500,"y":14.095},{"x":22.513,"y":14.097},{"x":22.516,"y":14.115},{"x":22.523,"y":14.122},{"x":22.534,"y":14.111},{"x":22.552,"y":14.092},{"x":22.555,"y":14.073},{"x":22.562,"y":14.104},{"x":22.568,"y":14.126},{"x":22.582,"y":14.145},{"x":22.587,"y":14.157},{"x":22.603,"y":14.141},{"x":22.614,"y":14.134},{"x":22.600,"y":14.088},{"x":22.603,"y":14.072},{"x":22.617,"y":14.118},{"x":22.628,"y":14.107},{"x":22.644,"y":14.099},{"x":22.633,"y":14.153},{"x":22.658,"y":14.141},{"x":22.672,"y":14.126},{"x":22.647,"y":14.082},{"x":22.642,"y":14.063},{"x":22.644,"y":14.051},{"x":22.637,"y":14.045},{"x":22.683,"y":14.040},{"x":22.672,"y":14.092},{"x":22.693,"y":14.111},{"x":22.700,"y":14.092},{"x":22.707,"y":14.080},{"x":22.686,"y":14.072},{"x":22.724,"y":14.095},{"x":22.727,"y":14.111},{"x":22.734,"y":14.049},{"x":22.738,"y":14.069},{"x":22.707,"y":14.153},{"x":22.727,"y":14.141},{"x":22.755,"y":14.134},{"x":22.775,"y":14.153},{"x":22.782,"y":14.122},{"x":22.741,"y":14.126},{"x":22.776,"y":14.101},{"x":22.766,"y":14.092},{"x":22.780,"y":14.082},{"x":22.769,"y":14.069},{"x":22.793,"y":14.043},{"x":22.776,"y":14.028},{"x":22.817,"y":14.061},{"x":22.810,"y":14.111},{"x":22.817,"y":14.130},{"x":22.817,"y":14.095},{"x":22.821,"y":14.161},
{"x":22.847,"y":14.207},{"x":22.907,"y":14.207},{"x":22.831,"y":14.192},{"x":22.890,"y":14.192},{"x":22.904,"y":14.187},{"x":22.803,"y":14.182},{"x":22.886,"y":14.174},{"x":22.945,"y":14.176},{"x":23.034,"y":14.185},{"x":23.096,"y":14.185},{"x":23.111,"y":14.178},{"x":23.173,"y":14.178},{"x":23.017,"y":14.169},{"x":22.962,"y":14.169},{"x":23.072,"y":14.170},{"x":23.086,"y":14.164},{"x":23.119,"y":14.161},{"x":23.149,"y":14.158},{"x":23.224,"y":14.162},{"x":23.286,"y":14.162},{"x":23.304,"y":14.156},{"x":23.365,"y":14.155},{"x":23.208,"y":14.147},{"x":23.266,"y":14.147},{"x":23.328,"y":14.138},{"x":23.362,"y":14.136},{"x":23.348,"y":14.124},{"x":23.408,"y":14.124},{"x":23.500,"y":14.133},{"x":23.565,"y":14.133},{"x":23.562,"y":14.113},{"x":23.539,"y":14.102},{"x":23.606,"y":14.102},{"x":23.617,"y":14.093},{"x":23.604,"y":14.082},{"x":23.548,"y":14.070},{"x":23.580,"y":14.070},{"x":23.617,"y":14.070},{"x":23.649,"y":14.071},{"x":23.663,"y":14.063},{"x":23.611,"y":14.050},{"x":23.645,"y":14.051},{"x":23.590,"y":14.040},{"x":23.656,"y":14.040},{"x":23.704,"y":14.033},{"x":23.652,"y":14.021},{"x":23.600,"y":14.009},{"x":23.666,"y":14.009},{"x":23.517,"y":14.015},{"x":23.472,"y":14.024},{"x":23.462,"y":14.085},{"x":23.445,"y":14.093},{"x":23.417,"y":14.095},{"x":23.417,"y":14.115},{"x":23.390,"y":14.105},{"x":23.401,"y":14.080},{"x":23.376,"y":14.076},{"x":23.359,"y":14.065},{"x":23.376,"y":14.057},{"x":23.348,"y":14.045},{"x":23.314,"y":14.038},{"x":23.362,"y":14.024},{"x":23.369,"y":14.014},{"x":23.410,"y":14.026},{"x":23.424,"y":14.017},{"x":23.459,"y":14.034},{"x":23.466,"y":14.042},{"x":23.472,"y":14.047},{"x":23.456,"y":14.017},{"x":23.466,"y":14.002},{"x":23.415,"y":14.001},{"x":23.341,"y":13.998},{"x":23.328,"y":13.997},{"x":23.266,"y":14.006},{"x":23.293,"y":14.022},{"x":23.272,"y":14.025},{"x":23.217,"y":13.994},{"x":23.152,"y":14.003},{"x":23.121,"y":14.014},{"x":23.056,"y":14.014},{"x":23.020,"y":13.996},{"x":22.959,"y":14.006},{"x":22.976,"y":14.020},{"x":22.962,"y":14.025},{"x":22.914,"y":14.025},{"x":22.865,"y":14.016},{"x":22.868,"y":14.036},{"x":22.920,"y":14.036},{"x":22.794,"y":14.030},{"x":22.824,"y":14.041},{"x":22.790,"y":14.043},{"x":23.169,"y":14.015},{"x":23.203,"y":14.015},{"x":23.072,"y":14.026},{"x":23.111,"y":14.022},
{"x":23.456,"y":14.062},{"x":23.100,"y":13.9915},{"x":23.166,"y":13.9915},{"x":23.415,"y":13.9915},{"x":23.480,"y":13.9915},{"x":21.874,"y":14.180},{"x":22.037,"y":14.158},{"x":22.079,"y":14.134},{"x":22.247,"y":14.111},{"x":22.288,"y":14.088},{"x":22.461,"y":14.066},{"x":22.504,"y":14.043},{"x":22.683,"y":14.020},{"x":22.724,"y":13.997},{"x":22.910,"y":13.994},
{"x":22.78,"y":14.165},{"x":22.82,"y":14.167},{"x":22.86,"y":14.164},{"x":22.90,"y":14.166},{"x":22.94,"y":14.165},{"x":22.98,"y":14.163},{"x":23.02,"y":14.166},{"x":23.06,"y":14.164},{"x":23.10,"y":14.167},{"x":23.14,"y":14.165},{"x":23.18,"y":14.163},{"x":23.22,"y":14.166},
{"x":22.64,"y":14.155},{"x":22.68,"y":14.157},{"x":22.72,"y":14.154},{"x":22.76,"y":14.156},{"x":22.80,"y":14.155},{"x":22.84,"y":14.153},{"x":22.88,"y":14.156},{"x":22.92,"y":14.154},{"x":22.96,"y":14.157},{"x":23.00,"y":14.155},{"x":23.04,"y":14.153},{"x":23.08,"y":14.156},{"x":23.12,"y":14.154},{"x":23.16,"y":14.157},{"x":23.20,"y":14.155},{"x":23.24,"y":14.153},{"x":23.28,"y":14.156},{"x":23.32,"y":14.154},
{"x":22.62,"y":14.145},{"x":22.66,"y":14.147},{"x":22.70,"y":14.144},{"x":22.74,"y":14.146},{"x":22.78,"y":14.145},{"x":22.82,"y":14.143},{"x":22.86,"y":14.146},{"x":22.90,"y":14.144},{"x":22.94,"y":14.147},{"x":22.98,"y":14.145},{"x":23.02,"y":14.143},{"x":23.06,"y":14.146},{"x":23.10,"y":14.144},{"x":23.14,"y":14.147},{"x":23.18,"y":14.145},{"x":23.22,"y":14.143},{"x":23.26,"y":14.146},{"x":23.30,"y":14.144},{"x":23.34,"y":14.147},{"x":23.38,"y":14.145},
{"x":22.60,"y":14.135},{"x":22.64,"y":14.137},{"x":22.68,"y":14.134},{"x":22.72,"y":14.136},{"x":22.76,"y":14.135},{"x":22.80,"y":14.133},{"x":22.84,"y":14.136},{"x":22.88,"y":14.134},{"x":22.92,"y":14.137},{"x":22.96,"y":14.135},{"x":23.00,"y":14.133},{"x":23.04,"y":14.136},{"x":23.08,"y":14.134},{"x":23.12,"y":14.137},{"x":23.16,"y":14.135},{"x":23.20,"y":14.133},{"x":23.24,"y":14.136},{"x":23.28,"y":14.134},{"x":23.32,"y":14.137},{"x":23.36,"y":14.135},{"x":23.40,"y":14.133},
{"x":22.58,"y":14.125},{"x":22.62,"y":14.127},{"x":22.66,"y":14.124},{"x":22.70,"y":14.126},{"x":22.74,"y":14.125},{"x":22.78,"y":14.123},{"x":22.82,"y":14.126},{"x":22.86,"y":14.124},{"x":22.90,"y":14.127},{"x":22.94,"y":14.125},{"x":22.98,"y":14.123},{"x":23.02,"y":14.126},{"x":23.06,"y":14.124},{"x":23.10,"y":14.127},{"x":23.14,"y":14.125},{"x":23.18,"y":14.123},{"x":23.22,"y":14.126},{"x":23.26,"y":14.124},{"x":23.30,"y":14.127},{"x":23.34,"y":14.125},{"x":23.38,"y":14.123},{"x":23.42,"y":14.126},
{"x":22.60,"y":14.115},{"x":22.64,"y":14.117},{"x":22.68,"y":14.114},{"x":22.72,"y":14.116},{"x":22.76,"y":14.115},{"x":22.80,"y":14.113},{"x":22.84,"y":14.116},{"x":22.88,"y":14.114},{"x":22.92,"y":14.117},{"x":22.96,"y":14.115},{"x":23.00,"y":14.113},{"x":23.04,"y":14.116},{"x":23.08,"y":14.114},{"x":23.12,"y":14.117},{"x":23.16,"y":14.115},{"x":23.20,"y":14.113},{"x":23.24,"y":14.116},{"x":23.28,"y":14.114},{"x":23.32,"y":14.117},{"x":23.36,"y":14.115},{"x":23.40,"y":14.113},{"x":23.44,"y":14.116},
{"x":22.58,"y":14.105},{"x":22.62,"y":14.107},{"x":22.66,"y":14.104},{"x":22.70,"y":14.106},{"x":22.74,"y":14.105},{"x":22.78,"y":14.103},{"x":22.82,"y":14.106},{"x":22.86,"y":14.104},{"x":22.90,"y":14.107},{"x":22.94,"y":14.105},{"x":22.98,"y":14.103},{"x":23.02,"y":14.106},{"x":23.06,"y":14.104},{"x":23.10,"y":14.107},{"x":23.14,"y":14.105},{"x":23.18,"y":14.103},{"x":23.22,"y":14.106},{"x":23.26,"y":14.104},{"x":23.30,"y":14.107},{"x":23.34,"y":14.105},{"x":23.38,"y":14.103},{"x":23.42,"y":14.106},
{"x":22.60,"y":14.095},{"x":22.64,"y":14.097},{"x":22.68,"y":14.094},{"x":22.72,"y":14.096},{"x":22.76,"y":14.095},{"x":22.80,"y":14.093},{"x":22.84,"y":14.096},{"x":22.88,"y":14.094},{"x":22.92,"y":14.097},{"x":22.96,"y":14.095},{"x":23.00,"y":14.093},{"x":23.04,"y":14.096},{"x":23.08,"y":14.094},{"x":23.12,"y":14.097},{"x":23.16,"y":14.095},{"x":23.20,"y":14.093},{"x":23.24,"y":14.096},{"x":23.28,"y":14.094},{"x":23.32,"y":14.097},{"x":23.36,"y":14.095},{"x":23.40,"y":14.093},{"x":23.44,"y":14.096},
{"x":22.62,"y":14.085},{"x":22.66,"y":14.087},{"x":22.70,"y":14.084},{"x":22.74,"y":14.086},{"x":22.78,"y":14.085},{"x":22.82,"y":14.083},{"x":22.86,"y":14.086},{"x":22.90,"y":14.084},{"x":22.94,"y":14.087},{"x":22.98,"y":14.085},{"x":23.02,"y":14.083},{"x":23.06,"y":14.086},{"x":23.10,"y":14.084},{"x":23.14,"y":14.087},{"x":23.18,"y":14.085},{"x":23.22,"y":14.083},{"x":23.26,"y":14.086},{"x":23.30,"y":14.084},{"x":23.34,"y":14.087},{"x":23.38,"y":14.085},{"x":23.42,"y":14.083},
{"x":22.68,"y":14.075},{"x":22.72,"y":14.077},{"x":22.76,"y":14.074},{"x":22.80,"y":14.076},{"x":22.84,"y":14.075},{"x":22.88,"y":14.073},{"x":22.92,"y":14.076},{"x":22.96,"y":14.074},{"x":23.00,"y":14.077},{"x":23.04,"y":14.075},{"x":23.08,"y":14.073},{"x":23.12,"y":14.076},{"x":23.16,"y":14.074},{"x":23.20,"y":14.077},{"x":23.24,"y":14.075},{"x":23.28,"y":14.073},{"x":23.32,"y":14.076},{"x":23.36,"y":14.074},{"x":23.40,"y":14.077},{"x":23.44,"y":14.075},
{"x":22.74,"y":14.065},{"x":22.78,"y":14.067},{"x":22.82,"y":14.064},{"x":22.86,"y":14.066},{"x":22.90,"y":14.065},{"x":22.94,"y":14.063},{"x":22.98,"y":14.066},{"x":23.02,"y":14.064},{"x":23.06,"y":14.067},{"x":23.10,"y":14.065},{"x":23.14,"y":14.063},{"x":23.18,"y":14.066},{"x":23.22,"y":14.064},{"x":23.26,"y":14.067},{"x":23.30,"y":14.065},{"x":23.34,"y":14.063},{"x":23.38,"y":14.066},{"x":23.42,"y":14.064},
{"x":22.80,"y":14.055},{"x":22.84,"y":14.057},{"x":22.88,"y":14.054},{"x":22.92,"y":14.056},{"x":22.96,"y":14.055},{"x":23.00,"y":14.053},{"x":23.04,"y":14.056},{"x":23.08,"y":14.054},{"x":23.12,"y":14.057},{"x":23.16,"y":14.055},{"x":23.20,"y":14.053},{"x":23.24,"y":14.056},{"x":23.28,"y":14.054},{"x":23.32,"y":14.057},{"x":23.36,"y":14.055},{"x":23.40,"y":14.053},{"x":23.44,"y":14.056},
{"x":22.86,"y":14.045},{"x":22.90,"y":14.047},{"x":22.94,"y":14.044},{"x":22.98,"y":14.046},{"x":23.02,"y":14.045},{"x":23.06,"y":14.043},{"x":23.10,"y":14.046},{"x":23.14,"y":14.044},{"x":23.18,"y":14.047},{"x":23.22,"y":14.045},{"x":23.26,"y":14.043},{"x":23.30,"y":14.046},{"x":23.34,"y":14.044},{"x":23.38,"y":14.047},{"x":23.42,"y":14.045},
{"x":23.00,"y":14.035},{"x":23.08,"y":14.037},{"x":23.16,"y":14.034},{"x":23.24,"y":14.036},{"x":23.32,"y":14.035},{"x":23.40,"y":14.033}
  ]
},
"concat": [
{"spacing": 0, "hconcat": [
{"width": 1, "height": 1, "data": {"values": []}, "mark": "point", "view": {"stroke": null}},
{
  "width": 512, "height": 262,
  "resolve": {"scale": {"x": "independent", "y": "independent"}},
  "layer": [
    {
      "resolve": {"axis": {"x": "independent", "y": "independent"}},
      "layer": [
        {"data": {"name": "aP"}, "mark": {"type": "point", "shape": "circle", "filled": true, "color": "#ff0000", "size": 100, "opacity": 1},
         "encoding": {
           "x": {"field": "x", "type": "quantitative", "scale": {"domain": [13.95, 14.25], "nice": false, "zero": false},
                 "axis": {"orient": "bottom", "values": [13.95, 14, 14.05, 14.1, 14.15, 14.2, 14.25], "labelPadding": 16, "title": null, "labelExpr": "'' + datum.value"}},
           "y": {"field": "y", "type": "quantitative", "scale": {"domain": [-19, -11], "nice": false, "zero": false},
                 "axis": {"orient": "left", "values": [-19, -18, -17, -16, -15, -14, -13, -12, -11], "labelPadding": 21, "title": null, "labelExpr": "'' + datum.value"}}
         }},
        {"data": {"name": "aA"}, "mark": {"type": "point", "shape": "M-1,-1L1,1M-1,1L1,-1", "filled": false, "color": "#0000ff", "size": 34, "strokeWidth": 1.2, "opacity": 1},
         "encoding": {"x": {"field": "x", "type": "quantitative", "axis": null}, "y": {"field": "y", "type": "quantitative", "axis": null}}},
        {"data": {"name": "aS"}, "mark": {"type": "point", "shape": "circle", "filled": false, "size": 81, "strokeWidth": 2, "opacity": 1},
         "encoding": {
           "x": {"field": "x", "type": "quantitative", "axis": {"orient": "top", "values": [13.95, 14, 14.05, 14.1, 14.15, 14.2, 14.25], "labels": false, "title": null}},
           "y": {"field": "y", "type": "quantitative", "axis": {"orient": "right", "values": [-19, -18, -17, -16, -15, -14, -13, -12, -11], "labels": false, "title": null}},
           "color": {"field": "k", "type": "nominal", "scale": {"domain": ["sll", "az", "el", "sop"], "range": ["#00e5ee", "#00dd00", "#eeee00", "#ee00ee"]}, "legend": null}
         }}
      ]
    },
    {
      "data": {"name": "L3"},
      "encoding": {
        "x": {"field": "col", "type": "quantitative", "scale": {"domain": [0, 1], "range": [222.3, 423.7]}, "axis": null},
        "y": {"field": "row", "type": "quantitative", "scale": {"domain": [0, 2], "range": [356, 397]}, "axis": null}
      },
      "layer": [
        {"transform": [{"filter": "datum.k == 'pf'"}], "mark": {"type": "point", "shape": "circle", "filled": true, "color": "#ff0000", "size": 144, "opacity": 1}},
        {"transform": [{"filter": "datum.k == 'all'"}], "mark": {"type": "point", "shape": "M-1,-1L1,1M-1,1L1,-1", "filled": false, "color": "#0000ff", "size": 28, "strokeWidth": 1, "opacity": 1}},
        {"transform": [{"filter": "datum.k != 'pf' && datum.k != 'all'"}], "mark": {"type": "point", "shape": "circle", "filled": false, "size": 110, "strokeWidth": 2, "opacity": 1},
         "encoding": {"color": {"field": "k", "type": "nominal", "scale": {"domain": ["sll", "az", "el", "sop"], "range": ["#00e5ee", "#00dd00", "#eeee00", "#ee00ee"]}, "legend": null}}},
        {"transform": [{"filter": "datum.k != 'pf' && datum.k != 'all'"}], "mark": {"type": "point", "shape": "circle", "filled": true, "size": 5, "opacity": 1},
         "encoding": {"color": {"field": "k", "type": "nominal", "scale": {"domain": ["sll", "az", "el", "sop"], "range": ["#00e5ee", "#00dd00", "#eeee00", "#ee00ee"]}, "legend": null}}},
        {"transform": [{"filter": "!datum.sub"}], "mark": {"type": "text", "align": "right", "baseline": "alphabetic", "dx": -34, "dy": 6, "fontSize": 17}, "encoding": {"text": {"field": "name"}}},
        {"transform": [{"filter": "datum.sub"}], "mark": {"type": "text", "align": "right", "baseline": "alphabetic", "dx": -51, "dy": 3.5, "fontSize": 17}, "encoding": {"text": {"field": "name"}}},
        {"transform": [{"filter": "datum.sub"}], "mark": {"type": "text", "align": "right", "baseline": "alphabetic", "dx": -34, "dy": 9, "fontSize": 13}, "encoding": {"text": {"field": "sub"}}}
      ]
    },
    {
      "data": {"values": [{}]},
      "layer": [
        {"mark": {"type": "text", "text": "SLL [dB]", "angle": 270, "fontSize": 16.5, "align": "center", "baseline": "middle"}, "encoding": {"x": {"value": -60}, "y": {"value": 131}}},
        {"mark": {"type": "text", "text": "HPBW", "fontSize": 16.5, "align": "right", "baseline": "alphabetic", "dx": -5}, "encoding": {"x": {"value": 256}, "y": {"value": 309}}},
        {"mark": {"type": "text", "text": "AZ", "fontSize": 13, "align": "left", "baseline": "alphabetic", "dx": -5, "dy": 4}, "encoding": {"x": {"value": 256}, "y": {"value": 309}}},
        {"mark": {"type": "text", "text": "[deg]", "fontSize": 16.5, "align": "left", "baseline": "alphabetic", "dx": 16}, "encoding": {"x": {"value": 256}, "y": {"value": 309}}},
        {"mark": {"type": "text", "text": "(a)", "font": "Liberation Serif", "fontSize": 22, "align": "center", "baseline": "middle"}, "encoding": {"x": {"value": 234.7}, "y": {"value": 436}}}
      ]
    }
  ]
}]},
{"spacing": 0, "hconcat": [
{"width": 1, "height": 1, "data": {"values": []}, "mark": "point", "view": {"stroke": null}},
{
  "width": 512, "height": 341,
  "resolve": {"scale": {"x": "independent", "y": "independent"}},
  "layer": [
    {
      "resolve": {"axis": {"x": "independent", "y": "independent"}},
      "layer": [
        {"data": {"name": "bP"}, "mark": {"type": "point", "shape": "circle", "filled": true, "color": "#ff0000", "size": 100, "opacity": 1},
         "encoding": {
           "x": {"field": "x", "type": "quantitative", "scale": {"domain": [21.8, 23.8], "nice": false, "zero": false},
                 "axis": {"orient": "bottom", "values": [21.8, 22, 22.2, 22.4, 22.6, 22.8, 23, 23.2, 23.4, 23.6, 23.8], "labelPadding": 16, "title": null, "labelExpr": "'' + datum.value"}},
           "y": {"field": "y", "type": "quantitative", "scale": {"domain": [-19, -11], "nice": false, "zero": false},
                 "axis": {"orient": "left", "values": [-19, -18, -17, -16, -15, -14, -13, -12, -11], "labelPadding": 21, "title": null, "labelExpr": "'' + datum.value"}}
         }},
        {"data": {"name": "bA"}, "mark": {"type": "point", "shape": "M-1,-1L1,1M-1,1L1,-1", "filled": false, "color": "#0000ff", "size": 34, "strokeWidth": 1.2, "opacity": 1},
         "encoding": {"x": {"field": "x", "type": "quantitative", "axis": null}, "y": {"field": "y", "type": "quantitative", "axis": null}}},
        {"data": {"name": "bS"}, "mark": {"type": "point", "shape": "circle", "filled": false, "size": 81, "strokeWidth": 2, "opacity": 1},
         "encoding": {
           "x": {"field": "x", "type": "quantitative", "axis": {"orient": "top", "values": [21.8, 22, 22.2, 22.4, 22.6, 22.8, 23, 23.2, 23.4, 23.6, 23.8], "labels": false, "title": null}},
           "y": {"field": "y", "type": "quantitative", "axis": {"orient": "right", "values": [-19, -18, -17, -16, -15, -14, -13, -12, -11], "labels": false, "title": null}},
           "color": {"field": "k", "type": "nominal", "scale": {"domain": ["sll", "az", "el", "sop"], "range": ["#00e5ee", "#00dd00", "#eeee00", "#ee00ee"]}, "legend": null}
         }}
      ]
    },
    {
      "data": {"name": "L6"},
      "encoding": {
        "x": {"field": "col", "type": "quantitative", "scale": {"domain": [0, 1], "range": [468, 600]}, "axis": null},
        "y": {"field": "row", "type": "quantitative", "scale": {"domain": [0, 5], "range": [16, 118.3]}, "axis": null}
      },
      "layer": [
        {"transform": [{"filter": "datum.k == 'pf'"}], "mark": {"type": "point", "shape": "circle", "filled": true, "color": "#ff0000", "size": 144, "opacity": 1}},
        {"transform": [{"filter": "datum.k == 'all'"}], "mark": {"type": "point", "shape": "M-1,-1L1,1M-1,1L1,-1", "filled": false, "color": "#0000ff", "size": 28, "strokeWidth": 1, "opacity": 1}},
        {"transform": [{"filter": "datum.k != 'pf' && datum.k != 'all'"}], "mark": {"type": "point", "shape": "circle", "filled": false, "size": 110, "strokeWidth": 2, "opacity": 1},
         "encoding": {"color": {"field": "k", "type": "nominal", "scale": {"domain": ["sll", "az", "el", "sop"], "range": ["#00e5ee", "#00dd00", "#eeee00", "#ee00ee"]}, "legend": null}}},
        {"transform": [{"filter": "datum.k != 'pf' && datum.k != 'all'"}], "mark": {"type": "point", "shape": "circle", "filled": true, "size": 5, "opacity": 1},
         "encoding": {"color": {"field": "k", "type": "nominal", "scale": {"domain": ["sll", "az", "el", "sop"], "range": ["#00e5ee", "#00dd00", "#eeee00", "#ee00ee"]}, "legend": null}}},
        {"transform": [{"filter": "!datum.sub"}], "mark": {"type": "text", "align": "right", "baseline": "alphabetic", "dx": -34, "dy": 6, "fontSize": 17}, "encoding": {"text": {"field": "name"}}},
        {"transform": [{"filter": "datum.sub"}], "mark": {"type": "text", "align": "right", "baseline": "alphabetic", "dx": -51, "dy": 3.5, "fontSize": 17}, "encoding": {"text": {"field": "name"}}},
        {"transform": [{"filter": "datum.sub"}], "mark": {"type": "text", "align": "right", "baseline": "alphabetic", "dx": -34, "dy": 9, "fontSize": 13}, "encoding": {"text": {"field": "sub"}}}
      ]
    },
    {
      "data": {"values": [{}]},
      "layer": [
        {"mark": {"type": "text", "text": "SLL [dB]", "angle": 270, "fontSize": 16.5, "align": "center", "baseline": "middle"}, "encoding": {"x": {"value": -60}, "y": {"value": 170.5}}},
        {"mark": {"type": "text", "text": "HPBW", "fontSize": 16.5, "align": "right", "baseline": "alphabetic", "dx": -5}, "encoding": {"x": {"value": 256}, "y": {"value": 388}}},
        {"mark": {"type": "text", "text": "EL", "fontSize": 13, "align": "left", "baseline": "alphabetic", "dx": -5, "dy": 4}, "encoding": {"x": {"value": 256}, "y": {"value": 388}}},
        {"mark": {"type": "text", "text": "[deg]", "fontSize": 16.5, "align": "left", "baseline": "alphabetic", "dx": 16}, "encoding": {"x": {"value": 256}, "y": {"value": 388}}},
        {"mark": {"type": "text", "text": "(b)", "font": "Liberation Serif", "fontSize": 22, "align": "center", "baseline": "middle"}, "encoding": {"x": {"value": 234}, "y": {"value": 435}}}
      ]
    }
  ]
}]},
{"spacing": 0, "hconcat": [
{"width": 1, "height": 1, "data": {"values": []}, "mark": "point", "view": {"stroke": null}},
{
  "width": 483, "height": 261,
  "resolve": {"scale": {"x": "independent", "y": "independent"}},
  "layer": [
    {
      "resolve": {"axis": {"x": "independent", "y": "independent"}},
      "layer": [
        {"data": {"name": "cP"}, "mark": {"type": "point", "shape": "circle", "filled": true, "color": "#ff0000", "size": 110, "opacity": 1},
         "encoding": {
           "x": {"field": "x", "type": "quantitative", "scale": {"domain": [21.8, 23.8], "nice": false, "zero": false},
                 "axis": {"orient": "bottom", "values": [21.8, 22, 22.2, 22.4, 22.6, 22.8, 23, 23.2, 23.4, 23.6, 23.8], "labelPadding": 17, "title": null, "labelExpr": "'' + datum.value"}},
           "y": {"field": "y", "type": "quantitative", "scale": {"domain": [13.95, 14.25], "nice": false, "zero": false},
                 "axis": {"orient": "left", "values": [13.95, 14, 14.05, 14.1, 14.15, 14.2, 14.25], "labelPadding": 12, "title": null, "labelExpr": "'' + datum.value"}}
         }},
        {"data": {"name": "cA"}, "mark": {"type": "point", "shape": "M-1,-1L1,1M-1,1L1,-1", "filled": false, "color": "#0000ff", "size": 38, "strokeWidth": 1.2, "opacity": 1},
         "encoding": {"x": {"field": "x", "type": "quantitative", "axis": null}, "y": {"field": "y", "type": "quantitative", "axis": null}}},
        {"data": {"name": "cS"}, "mark": {"type": "point", "shape": "circle", "filled": false, "size": 100, "strokeWidth": 2, "opacity": 1},
         "encoding": {
           "x": {"field": "x", "type": "quantitative", "axis": {"orient": "top", "values": [21.8, 22, 22.2, 22.4, 22.6, 22.8, 23, 23.2, 23.4, 23.6, 23.8], "labels": false, "title": null}},
           "y": {"field": "y", "type": "quantitative", "axis": {"orient": "right", "values": [13.95, 14, 14.05, 14.1, 14.15, 14.2, 14.25], "labels": false, "title": null}},
           "color": {"field": "k", "type": "nominal", "scale": {"domain": ["sll", "az", "el", "sop"], "range": ["#00e5ee", "#00dd00", "#eeee00", "#ee00ee"]}, "legend": null}
         }}
      ]
    },
    {
      "data": {"name": "L3"},
      "encoding": {
        "x": {"field": "col", "type": "quantitative", "scale": {"domain": [0, 1], "range": [207.4, 409.1]}, "axis": null},
        "y": {"field": "row", "type": "quantitative", "scale": {"domain": [0, 2], "range": [355.7, 396.3]}, "axis": null}
      },
      "layer": [
        {"transform": [{"filter": "datum.k == 'pf'"}], "mark": {"type": "point", "shape": "circle", "filled": true, "color": "#ff0000", "size": 144, "opacity": 1}},
        {"transform": [{"filter": "datum.k == 'all'"}], "mark": {"type": "point", "shape": "M-1,-1L1,1M-1,1L1,-1", "filled": false, "color": "#0000ff", "size": 28, "strokeWidth": 1, "opacity": 1}},
        {"transform": [{"filter": "datum.k != 'pf' && datum.k != 'all'"}], "mark": {"type": "point", "shape": "circle", "filled": false, "size": 110, "strokeWidth": 2, "opacity": 1},
         "encoding": {"color": {"field": "k", "type": "nominal", "scale": {"domain": ["sll", "az", "el", "sop"], "range": ["#00e5ee", "#00dd00", "#eeee00", "#ee00ee"]}, "legend": null}}},
        {"transform": [{"filter": "datum.k != 'pf' && datum.k != 'all'"}], "mark": {"type": "point", "shape": "circle", "filled": true, "size": 5, "opacity": 1},
         "encoding": {"color": {"field": "k", "type": "nominal", "scale": {"domain": ["sll", "az", "el", "sop"], "range": ["#00e5ee", "#00dd00", "#eeee00", "#ee00ee"]}, "legend": null}}},
        {"transform": [{"filter": "!datum.sub"}], "mark": {"type": "text", "align": "right", "baseline": "alphabetic", "dx": -34, "dy": 6, "fontSize": 17}, "encoding": {"text": {"field": "name"}}},
        {"transform": [{"filter": "datum.sub"}], "mark": {"type": "text", "align": "right", "baseline": "alphabetic", "dx": -51, "dy": 3.5, "fontSize": 17}, "encoding": {"text": {"field": "name"}}},
        {"transform": [{"filter": "datum.sub"}], "mark": {"type": "text", "align": "right", "baseline": "alphabetic", "dx": -34, "dy": 9, "fontSize": 13}, "encoding": {"text": {"field": "sub"}}}
      ]
    },
    {
      "data": {"values": [{}]},
      "layer": [
        {"mark": {"type": "text", "text": "HPBW", "angle": 270, "fontSize": 16.5, "align": "right", "baseline": "middle", "dx": -5}, "encoding": {"x": {"value": -91}, "y": {"value": 130.5}}},
        {"mark": {"type": "text", "text": "AZ", "angle": 270, "fontSize": 13, "align": "left", "baseline": "middle", "dx": -5, "dy": 5}, "encoding": {"x": {"value": -91}, "y": {"value": 130.5}}},
        {"mark": {"type": "text", "text": "[deg]", "angle": 270, "fontSize": 16.5, "align": "left", "baseline": "middle", "dx": 16}, "encoding": {"x": {"value": -91}, "y": {"value": 130.5}}},
        {"mark": {"type": "text", "text": "HPBW", "fontSize": 16.5, "align": "right", "baseline": "alphabetic", "dx": -5}, "encoding": {"x": {"value": 241.5}, "y": {"value": 308}}},
        {"mark": {"type": "text", "text": "EL", "fontSize": 13, "align": "left", "baseline": "alphabetic", "dx": -5, "dy": 4}, "encoding": {"x": {"value": 241.5}, "y": {"value": 308}}},
        {"mark": {"type": "text", "text": "[deg]", "fontSize": 16.5, "align": "left", "baseline": "alphabetic", "dx": 16}, "encoding": {"x": {"value": 241.5}, "y": {"value": 308}}},
        {"mark": {"type": "text", "text": "(c)", "font": "Liberation Serif", "fontSize": 22, "align": "center", "baseline": "middle"}, "encoding": {"x": {"value": 204.1}, "y": {"value": 437}}}
      ]
    }
  ]
}]}
]
}
